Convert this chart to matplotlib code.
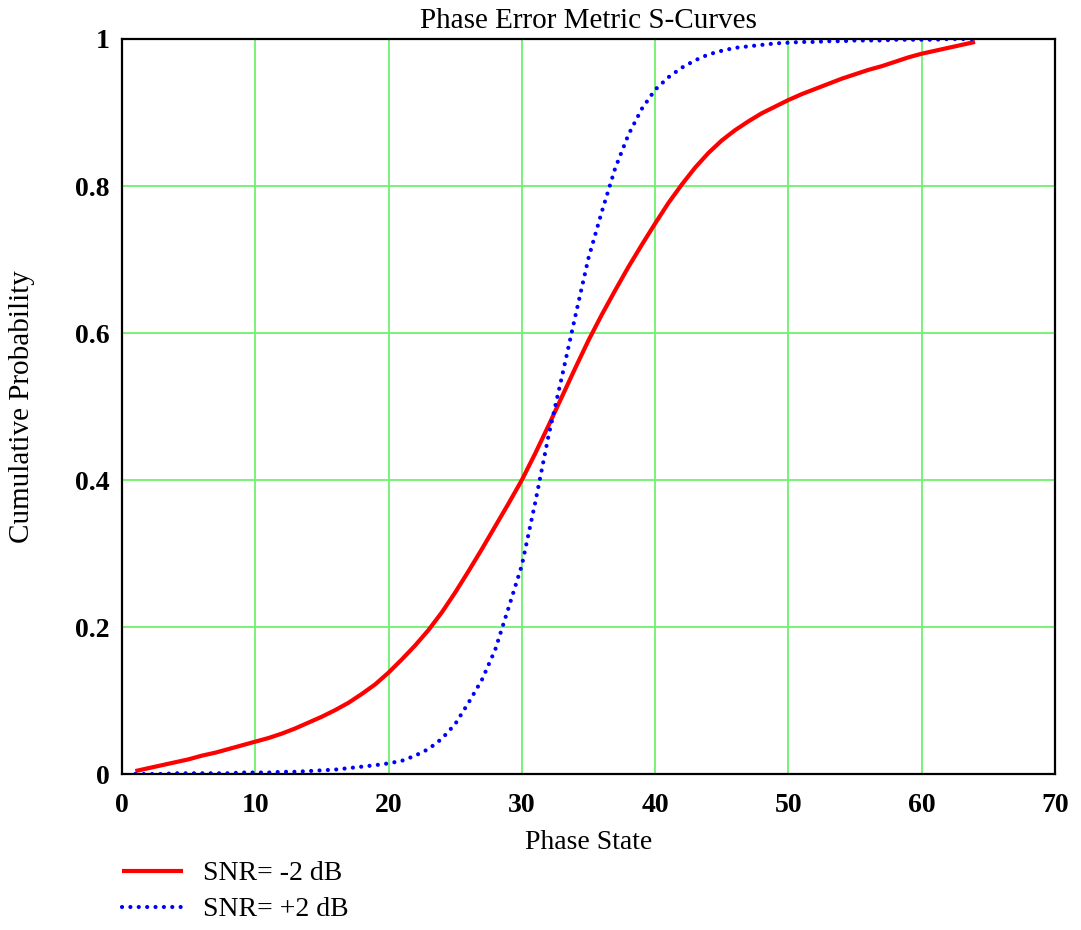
import matplotlib
matplotlib.use("Agg")
import matplotlib.pyplot as plt

plt.rcParams["font.family"] = ["Liberation Serif", "DejaVu Serif"]

# Phase states and cumulative probability for two SNR settings
phase_state = list(range(1, 65))

cdf_snr_minus2 = [
    0.004, 0.008, 0.012, 0.016, 0.020, 0.025, 0.029, 0.034, 0.039, 0.044,
    0.049, 0.055, 0.062, 0.070, 0.078, 0.087, 0.097, 0.109, 0.122, 0.138,
    0.156, 0.175, 0.196, 0.220, 0.247, 0.276, 0.306, 0.337, 0.368, 0.400,
    0.436, 0.474, 0.513, 0.552, 0.590, 0.625, 0.658, 0.690, 0.720, 0.749,
    0.777, 0.802, 0.825, 0.845, 0.862, 0.876, 0.888, 0.899, 0.908, 0.917,
    0.925, 0.932, 0.939, 0.946, 0.952, 0.958, 0.963, 0.969, 0.975, 0.980,
    0.984, 0.988, 0.992, 0.996,
]

cdf_snr_plus2 = [
    0.000, 0.000, 0.000, 0.001, 0.001, 0.001, 0.001, 0.001, 0.002, 0.002,
    0.002, 0.003, 0.003, 0.004, 0.005, 0.006, 0.008, 0.010, 0.012, 0.0145,
    0.018, 0.025, 0.034, 0.048, 0.068, 0.097, 0.128, 0.169, 0.226, 0.284,
    0.369, 0.460, 0.540, 0.622, 0.702, 0.765, 0.824, 0.870, 0.905, 0.931,
    0.948, 0.961, 0.971, 0.979, 0.984, 0.988, 0.990, 0.992, 0.994, 0.995,
    0.996, 0.996, 0.997, 0.997, 0.998, 0.998, 0.998, 0.999, 0.999, 0.999,
    0.999, 1.000, 1.000, 1.000,
]

series_labels = ["SNR= -2 dB", "SNR= +2 dB"]
x_ticks = [0, 10, 20, 30, 40, 50, 60, 70]
y_ticks = [0, 0.2, 0.4, 0.6, 0.8, 1]
y_tick_labels = ["0", "0.2", "0.4", "0.6", "0.8", "1"]

W, H = 1081, 930
fig = plt.figure(figsize=(W / 100, H / 100), dpi=100)
fig.subplots_adjust(left=122 / W, right=1055 / W, bottom=1 - 774 / H, top=1 - 39 / H)
ax = fig.add_subplot(111)

ax.set_xlim(0, 70)
ax.set_ylim(0, 1)
ax.set_xticks(x_ticks)
ax.set_yticks(y_ticks)
ax.set_yticklabels(y_tick_labels)
ax.tick_params(length=0, labelsize=20)
ax.tick_params(axis="x", pad=14)
ax.tick_params(axis="y", pad=9)
for lab in ax.get_xticklabels() + ax.get_yticklabels():
    lab.set_fontweight("bold")

ax.grid(True, color="#6ef06e", linewidth=1.3)
ax.set_axisbelow(True)
for sp in ax.spines.values():
    sp.set_linewidth(1.6)
    sp.set_color("black")

l1, = ax.plot(phase_state, cdf_snr_minus2, color="red", linewidth=3.0,
              solid_capstyle="butt", solid_joinstyle="round",
              label=series_labels[0])
l2, = ax.plot(phase_state, cdf_snr_plus2, color="blue", linewidth=3.0,
              linestyle=(0, (0.01, 2.0)), dash_capstyle="round",
              label=series_labels[1])

ax.set_title("Phase Error Metric S-Curves", fontsize=21, pad=8)
ax.set_xlabel("Phase State", fontsize=20)
ax.set_ylabel("Cumulative Probability", fontsize=21)
ax.xaxis.set_label_coords(0.5, -(830 - 774) / 735)
ax.yaxis.set_label_coords(-(122 - 35) / 933, 0.5)

fig.legend(handles=[l1, l2], loc="upper left",
           bbox_to_anchor=(122 / W, 1 - 861 / H), frameon=False,
           fontsize=20, handlelength=2.2, handletextpad=0.7,
           labelspacing=0.38, borderpad=0, borderaxespad=0)

fig.savefig("out.png", dpi=100)
